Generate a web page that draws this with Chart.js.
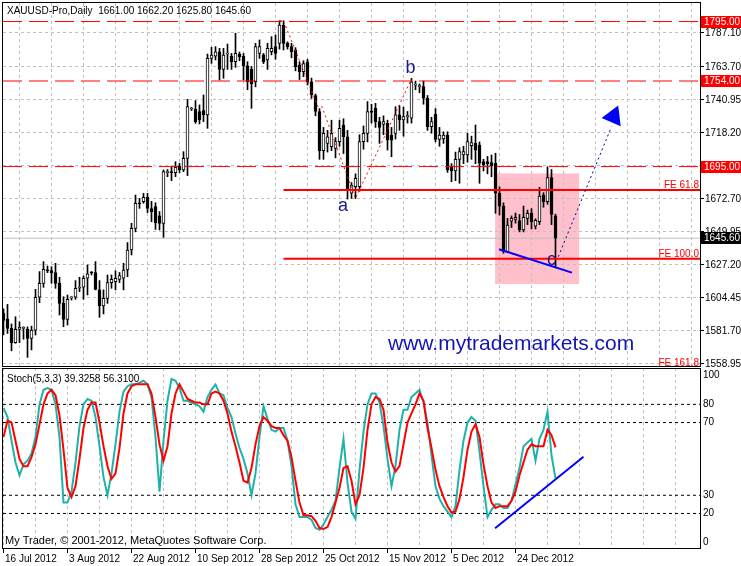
<!DOCTYPE html>
<html>
<head>
  <meta charset="UTF-8" />
  <title>XAUUSD-Pro Daily</title>
  <script src="https://cdn.jsdelivr.net/npm/chart.js"></script>
  <style>
    html, body { margin: 0; padding: 0; background: #fff; }
    #wrap { position: relative; width: 741px; height: 566px; overflow: hidden; background: #fff; }
    #mainChart { position: absolute; left: 0; top: 0; }
    #stochChart { position: absolute; left: 0; top: 360px; }
  </style>
</head>
<body>
  <div id="wrap">
    <canvas id="mainChart" width="741" height="367"></canvas>
    <canvas id="stochChart" width="741" height="206"></canvas>
  </div>

  <script>
    // daily bars, one per slot (broker has Sunday bars)
    const opens = [
      1594,1590,1583.5,1573.6,1582.8,1583.5,1583,1576.6,1582.3,1604.9,
      1614.5,1623.5,1623.3,1621.9,1614.5,1600.7,1589.7,1604.5,1604.9,1611.1,
      1611.8,1618,1621.9,1621.9,1610,1598.9,1604.2,1615,1615.6,1617.3,
      1618,1623.7,1637.5,1652.4,1669.7,1670.8,1673.8,1666,1667.4,1661,
      1655.9,1690.8,1691,1690.8,1695.4,1692.7,1700.7,1734.7,1734.7,1732.9,
      1733.6,1730.6,1769.6,1771.2,1774.2,1762,1772.5,1771.2,1767.3,1772.6,
      1771.2,1764.4,1762,1753.6,1773,1772,1768.5,1774.2,1777.7,1780,
      1792.6,1780,1777.7,1775.4,1765,1760.4,1767.3,1753.5,1744,1733,
      1706,1711,1708.7,1707.6,1712.2,1723.7,1715.6,1676.6,1681.1,1681.1,
      1712.2,1717.9,1732.9,1735.2,1726,1724,1724.8,1716.8,1717.9,1730.6,
      1727.1,1729.4,1728.3,1751.2,1750.1,1750.1,1742.1,1722.5,1731,1713.8,
      1714,1716.8,1695,1692,1700,1703,1703,1709.5,1711,1709.9,
      1698.4,1698.4,1697.7,1697.3,1676.6,1667.8,1636.3,1657.3,1658.6,1657.7,
      1651.3,1659.3,1662.8,1654,1657,1675.4,1670.8,1687.4,1661
    ];
    const highs = [
      1597,1600,1586.5,1591.5,1588,1584.6,1584.5,1585,1610.4,1622.6,
      1629.5,1626.5,1626,1628.3,1618.7,1605.3,1606.5,1605.3,1616.4,1618.7,
      1619.6,1627.2,1622.6,1629.5,1616.4,1610,1620.3,1620.3,1623.2,1622,
      1628.3,1642.6,1655.9,1675.4,1673.1,1676.6,1676.6,1671,1670.1,1664,
      1692.7,1693,1695,1698.4,1697.3,1705.3,1741.4,1735.9,1740.5,1737.5,
      1744.4,1772.6,1777.2,1777.7,1776.5,1776.5,1779.5,1773,1786.9,1774,
      1773,1767.3,1764,1780,1782.3,1773,1780,1784.6,1785.7,1795.6,
      1795.6,1781,1780,1777,1767.3,1768,1769,1756,1745,1735,
      1722,1720,1727,1715,1727,1728,1720,1684,1690,1717,
      1723,1739.8,1738,1738.6,1729,1730,1727,1722,1736.3,1737,
      1736,1733,1755.8,1754,1752,1754,1744,1729,1735,1722,
      1719,1719,1697,1705,1708,1709,1717.9,1716,1723.7,1712,
      1700,1702,1703,1704.2,1681,1670,1659.3,1661,1663,1662,
      1667.8,1665,1666,1659,1680.7,1677,1694.9,1693,1662.2
    ];
    const lows = [
      1579,1580,1568,1573.2,1573.6,1576,1563.5,1568.6,1578.9,1601.2,
      1611.8,1621.9,1614.5,1611.1,1592.7,1584.6,1585.8,1603,1603.5,1608.8,
      1603.5,1606.5,1620.3,1610,1591.1,1593.4,1600.7,1611.1,1610,1615,
      1610,1619.1,1634.1,1650,1666.2,1669.7,1663.3,1657,1651.7,1651.3,
      1646.2,1688,1685.3,1688.1,1690.8,1691.5,1688.8,1733.6,1724.8,1724.4,
      1726,1721.4,1766.2,1768.5,1754.7,1755.9,1762,1762,1763.4,1768,
      1754.7,1748,1735.2,1750,1769.6,1766,1762,1772,1769,1776,
      1775.4,1776,1770,1761,1755,1757,1751.2,1742,1730,1700,
      1700,1705,1706,1701,1709,1704,1672.6,1673.1,1673,1678,
      1707,1712,1725,1722,1711,1717,1706.4,1701.8,1714,1720,
      1716,1725,1725,1748,1746,1738,1720,1718,1712,1709,
      1711,1691,1684.6,1685.3,1683.5,1697,1698,1700,1697,1683.5,
      1692,1690,1688,1662.8,1661.6,1635.2,1635.7,1653,1656,1650,
      1650,1655,1652,1652,1655,1667,1669,1655,1625.8
    ];
    const closes = [
      1589,1583.5,1573.6,1582.8,1584.4,1584,1576.6,1582.3,1604.9,1614.5,
      1624.2,1623.2,1621.9,1614.5,1600.7,1589.7,1603.5,1604.9,1611.1,1611.8,
      1618,1621,1621.7,1610.4,1598.9,1604.2,1615,1617.3,1618,1619.8,
      1623.7,1637.5,1652.4,1669.7,1669.4,1673.8,1666.2,1664,1656.3,1655.9,
      1691.5,1691.2,1690.8,1694.5,1692.7,1700.7,1736.3,1735,1726,1727.1,
      1730.6,1769.6,1771.9,1774.2,1762,1771.9,1773,1767.3,1773,1770.8,
      1764.4,1753.6,1752,1777.7,1777.7,1767.3,1776.5,1776.5,1773,1792.6,
      1780,1777.7,1774.2,1763.9,1760.4,1766,1753.5,1744.4,1733,1706,
      1718,1715.6,1717.9,1712.2,1721.4,1715.6,1678.8,1682.3,1686.9,1712.2,
      1717.9,1732.9,1732.4,1726,1722,1726,1713.3,1713.3,1730.6,1727.1,
      1729.4,1729.6,1753.5,1751.5,1750.4,1742.1,1722.5,1726,1713.8,1716.8,
      1716.8,1692.7,1692,1700,1705.3,1705.3,1712.2,1711.5,1706.4,1697.3,
      1696.1,1696.8,1695.4,1676.6,1667.8,1636.3,1654.7,1659.3,1660,1651.3,
      1660,1662.8,1657,1658,1674.7,1670.8,1687.4,1662,1645.6
    ];

    // Stoch(5,3,3): main (%K) and signal (%D)
    const stochK = [
      78,73,60,48,41,47,49,53,62,80,
      88,89,88,80,62,26,26,32,48,68,
      80,83,82,73,57,40,30,42,58,76,
      87,90,91,91,92,93,91,84,62,32,
      60,82,94,93,89,82,82,81,80,79,
      76,84,88,91,86,85,78,73,64,56,
      50,42,30,42,62,79,72,66,65,67,
      67,60,46,25,18,18,18,16.5,12,11,
      14,18,22,27,45,61,37,21,17,44,
      65,80,86,86,81,68,50,35,46,66,
      77,77,84,86,88,81,70,52,35,28,
      24,21,18,24,44,60,70,73,71,54,
      35,18,22,25,25,23,23,27,36,45,
      57,59,61,49,61,66,76,52,39.3258
    ];
    const stochD = [
      62,71,70,60,50,46,46,51,58,69,
      80,86,88,85,74,55,34,29,35,50,
      67,77,81,81,70,57,46,39,42,56,
      75,86,90,91,91,91,91,86,73,58,
      49,57,75,86,91,87,83,82,81,81,
      80,80,86,87,86,82,75,65,57,48,
      38,37,45,58,68,73,71,68,67,67,
      63,60,51,38,26,19,19,18.5,16,12,
      11.5,12.5,18,26,34,45,46,38,25,30,
      45,66,80,84,83,77,59,48,43,46,
      58,70,75,80,86,82,67,56,44,35,
      29,24,20.5,21,28,40,55,65,69,62,
      47,35,26,23,24,24,24,27,32,41,
      48,55,58,57,57,57,66,63,56.31
    ];

    const dateLabels = ['16 Jul 2012', '3 Aug 2012', '22 Aug 2012', '10 Sep 2012', '28 Sep 2012',
                        '25 Oct 2012', '15 Nov 2012', '5 Dec 2012', '24 Dec 2012'];
    const dateEvery = 16;   // a date label every 16 bars
    const gridEvery = 8;    // a vertical grid line every 8 bars
    const priceTicks = [1558.95, 1581.70, 1604.45, 1627.20, 1649.95, 1672.70, 1695.45, 1718.20, 1740.95, 1763.70, 1787.10];
    const stochLevels = [20, 30, 70, 80];
    const stochTickPos = [4, 20, 30, 70, 80, 96];
    const stochTickText = ['0', '20', '30', '70', '80', '100'];

    // drawn objects on the price chart
    const levels = [1795, 1754, 1695];
    const feLevels = [1678.9, 1631.4, 1555.9];
    const feNames = ['FE 61.8', 'FE 100.0', 'FE 161.8'];
    const feStartBar = 70;
    const zigBars = [69, 70, 78.6, 79.6, 88, 102];
    const zigPrices = [1795.6, 1795.6, 1736.4, 1736.4, 1673, 1755.5];
    const waveNames = ['a', 'b', 'c'];
    const waveBars = [84.9, 101.75, 137];
    const wavePrices = [1664.4, 1759.7, 1627.2];
    const boxBars = [122.9, 143.9];
    const boxPrices = [1614.1, 1690.3];
    const trendBars = [123.9, 142.1];
    const trendPrices = [1638.0, 1621.9];
    const arrowBars = [138.7, 152.0];
    const arrowPrices = [1632.9, 1722.5];
    const arrowHead = { bar: 152.5, price: 1729.5 };
    const stochTrendBars = [122.9, 145];
    const stochTrendVals = [11.9, 51.2];

    const X_MIN = -0.125;
    const X_MAX = X_MIN + 697 / 4;
    const SANS = "'Liberation Sans', Arial, sans-serif";
    const last = opens.length - 1;

    const pts = (xs, ys) => xs.map((x, i) => ({ x: x, y: ys[i] }));
    const gridBars = [];
    for (let b = 0; b * 4 <= 697; b += gridEvery) gridBars.push(b);
    const dateAt = v => (v % dateEvery === 0 && dateLabels[v / dateEvery]) ? dateLabels[v / dateEvery] : '';

    function lineSet(data, color, width, dash, order) {
      return { type: 'line', data: data, borderColor: color, borderWidth: width, borderDash: dash || [],
               pointRadius: 0, tension: 0, fill: false, order: order === undefined ? 0 : order };
    }

    function xAxis(withLabels) {
      return {
        type: 'linear', min: X_MIN, max: X_MAX, offset: false,
        afterBuildTicks: s => { s.ticks = gridBars.map(v => ({ value: v })); },
        grid: {
          color: '#c0c0c0', drawTicks: withLabels, tickLength: 5,
          tickColor: c => (c.tick && dateAt(c.tick.value)) ? '#000' : 'rgba(0,0,0,0)'
        },
        border: { display: false, dash: [3, 3] },
        ticks: {
          display: withLabels, autoSkip: false, maxRotation: 0, minRotation: 0,
          align: 'start', labelOffset: 1.5, padding: 0, color: '#000',
          font: { family: SANS, size: 10 },
          callback: v => dateAt(v)
        },
        afterFit: s => { s.height = withLabels ? 18 : 0; s.paddingLeft = 0; s.paddingRight = 0; }
      };
    }

    function txt(ctx, s, x, y, font, color, align, base) {
      ctx.font = font;
      ctx.fillStyle = color;
      ctx.textAlign = align || 'left';
      ctx.textBaseline = base || 'middle';
      ctx.fillText(s, x, y);
    }

    // ---------- price panel ----------
    const wicks = opens.map((o, i) => ({ x: i, y: [lows[i], highs[i]] }));
    const bodies = opens.map((o, i) => {
      const lo = Math.min(o, closes[i]);
      const hi = Math.max(Math.max(o, closes[i]), lo + 0.7);
      return { x: i, y: [lo, hi] };
    });
    const bodyFill = opens.map((o, i) => closes[i] >= o ? '#ffffff' : '#000000');

    const mainDecor = {
      id: 'mainDecor',
      beforeDraw(chart) {
        const { ctx, scales: { x, y } } = chart;
        const l = x.getPixelForValue(boxBars[0]), r = x.getPixelForValue(boxBars[1]);
        const t = y.getPixelForValue(boxPrices[1]), b = y.getPixelForValue(boxPrices[0]);
        ctx.save();
        ctx.fillStyle = '#ffc0cb';
        ctx.fillRect(l, t, r - l, b - t);
        ctx.restore();
      },
      afterDraw(chart) {
        const { ctx, chartArea: a, scales: { x, y } } = chart;
        ctx.save();

        // texts clipped to the plot
        ctx.save();
        ctx.beginPath();
        ctx.rect(a.left, a.top, a.right - a.left, a.bottom - a.top);
        ctx.clip();
        feLevels.forEach((p, i) => {
          txt(ctx, feNames[i], a.right - 1, y.getPixelForValue(p) - 2, '10px ' + SANS, '#ff0000', 'right', 'alphabetic');
        });
        waveNames.forEach((n, i) => {
          txt(ctx, n, x.getPixelForValue(waveBars[i]), y.getPixelForValue(wavePrices[i]), '18px ' + SANS, '#1a1a8c', 'center', 'alphabetic');
        });
        txt(ctx, 'www.mytrademarkets.com', 388, 350, '21px ' + SANS, '#1414b4', 'left', 'alphabetic');
        const header = 'XAUUSD-Pro,Daily  ' + [opens[last], highs[last], lows[last], closes[last]].map(v => v.toFixed(2)).join(' ');
        txt(ctx, header, 7, 11, '10px ' + SANS, '#000', 'left', 'middle');
        ctx.restore();

        // frame
        ctx.strokeStyle = '#000';
        ctx.lineWidth = 1;
        ctx.strokeRect(a.left - 0.5, a.top - 0.5, a.right - a.left + 1, a.bottom - a.top + 1);

        // price tags on the axis
        levels.forEach(p => {
          const py = Math.round(y.getPixelForValue(p));
          ctx.fillStyle = '#ff0000';
          ctx.fillRect(a.right + 1, py - 6, 40, 12);
          txt(ctx, p.toFixed(2), a.right + 4, py, '10px ' + SANS, '#ffffff', 'left', 'middle');
        });
        const cy = Math.round(y.getPixelForValue(closes[last]));
        ctx.fillStyle = '#000';
        ctx.fillRect(a.right + 1, cy - 6, 40, 12);
        txt(ctx, closes[last].toFixed(2), a.right + 4, cy, '10px ' + SANS, '#ffffff', 'left', 'middle');
        ctx.restore();
      }
    };

    new Chart(document.getElementById('mainChart'), {
      type: 'bar',
      data: {
        datasets: [
          lineSet(pts([X_MIN, X_MAX], [closes[last], closes[last]]), '#c0c0c0', 1, [], 5),
          { type: 'bar', data: wicks, backgroundColor: '#000', borderWidth: 0, barThickness: 1, grouped: false, order: 4 },
          { type: 'bar', data: bodies, backgroundColor: bodyFill, borderColor: '#000', borderWidth: 1,
            borderSkipped: false, barThickness: 3, grouped: false, order: 3 },
          ...levels.map(p => lineSet(pts([X_MIN, X_MAX], [p, p]), '#ff0000', 1, [19, 7], 1)),
          ...feLevels.map(p => lineSet(pts([feStartBar, X_MAX], [p, p]), '#ff0000', 2, [], 1)),
          lineSet(pts(zigBars, zigPrices), '#ff0000', 1, [2, 3], 0),
          lineSet(pts(trendBars, trendPrices), '#0000ff', 2, [], 0),
          lineSet(pts(arrowBars, arrowPrices), '#000099', 1, [2, 3], 0),
          { type: 'line', data: [{ x: arrowHead.bar, y: arrowHead.price }], showLine: false,
            pointStyle: 'triangle', pointRadius: 12, pointRotation: 23,
            pointBackgroundColor: '#0000ff', pointBorderColor: '#0000ff', borderWidth: 0, order: 0 }
        ]
      },
      options: {
        responsive: false, animation: false, devicePixelRatio: 1,
        layout: { autoPadding: false, padding: { left: 3, top: 3, right: 0, bottom: 1 } },
        plugins: { legend: { display: false }, tooltip: { enabled: false } },
        scales: {
          x: xAxis(false),
          y: {
            position: 'right', min: 1557.53, max: 1807.78,
            afterBuildTicks: s => { s.ticks = priceTicks.map(v => ({ value: v })); },
            grid: { color: '#c0c0c0', tickColor: '#000', tickLength: 4, tickBorderDash: [] },
            border: { display: false, dash: [3, 3] },
            ticks: { color: '#000', padding: 1, font: { family: SANS, size: 10 }, callback: v => v.toFixed(2) },
            afterFit: s => { s.width = 41; s.paddingTop = 0; s.paddingBottom = 0; }
          }
        }
      },
      plugins: [mainDecor]
    });

    // ---------- stochastic panel ----------
    const stochDecor = {
      id: 'stochDecor',
      afterDraw(chart) {
        const { ctx, chartArea: a } = chart;
        ctx.save();
        ctx.strokeStyle = '#000';
        ctx.lineWidth = 1;
        ctx.strokeRect(a.left - 0.5, a.top + 0.5, a.right - a.left + 1, a.bottom - a.top);
        const label = 'Stoch(5,3,3) ' + stochK[last].toFixed(4) + ' ' + stochD[last].toFixed(4);
        txt(ctx, label, 7, a.top + 11, '10px ' + SANS, '#000', 'left', 'middle');
        txt(ctx, 'My Trader, \u00a9 2001-2012, MetaQuotes Software Corp.', 5, a.bottom - 7, '11px ' + SANS, '#000', 'left', 'middle');
        ctx.restore();
      }
    };

    new Chart(document.getElementById('stochChart'), {
      type: 'line',
      data: {
        datasets: [
          ...stochLevels.map(v => lineSet(pts([X_MIN, X_MAX], [v, v]), '#000', 1, [3, 3], 3)),
          lineSet(stochK.map((v, i) => ({ x: i, y: v })), '#20b2aa', 2, [], 2),
          lineSet(stochD.map((v, i) => ({ x: i, y: v })), '#ff0000', 2, [], 1),
          lineSet(pts(stochTrendBars, stochTrendVals), '#0000ff', 2, [], 0)
        ]
      },
      options: {
        responsive: false, animation: false, devicePixelRatio: 1,
        layout: { autoPadding: false, padding: { left: 3, top: 8, right: 0, bottom: 0 } },
        plugins: { legend: { display: false }, tooltip: { enabled: false } },
        scales: {
          x: xAxis(true),
          y: {
            position: 'right', min: 1, max: 100,
            afterBuildTicks: s => { s.ticks = stochTickPos.map(v => ({ value: v })); },
            grid: { display: false, drawTicks: false },
            border: { display: false },
            ticks: { color: '#000', padding: 3, font: { family: SANS, size: 10 }, callback: (v, i) => stochTickText[i] },
            afterFit: s => { s.width = 41; s.paddingTop = 0; s.paddingBottom = 0; }
          }
        }
      },
      plugins: [stochDecor]
    });
  </script>
</body>
</html>
